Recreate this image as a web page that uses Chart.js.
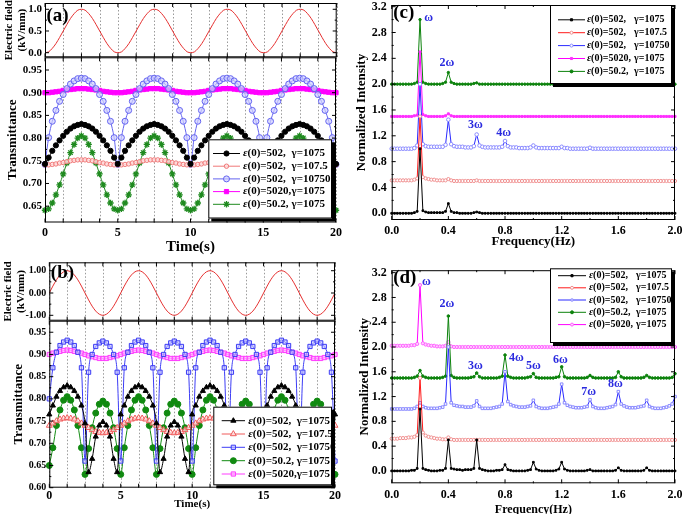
<!DOCTYPE html>
<html>
<head>
<meta charset="utf-8">
<script src="https://cdn.jsdelivr.net/npm/chart.js@4.4.0/dist/chart.umd.min.js"></script>
<style>
  html, body { margin: 0; padding: 0; background: #fff; }
  #fig { position: relative; width: 685px; height: 514px; overflow: hidden; background: #fff; }
</style>
</head>
<body>
<div id="fig"></div>
<script>
// ---------- data ----------
// time grid (s) for panels (a) and (b)
const time = Array.from({length: 81}, (_, i) => i * 0.25);
const timeTicks = [0, 1.25, 2.5, 3.75, 5, 6.25, 7.5, 8.75, 10, 11.25, 12.5, 13.75, 15, 16.25, 17.5, 18.75, 20];

// (a) electric field (kV/mm)
const fieldA = [
  0,0.02,0.1,0.21,0.35,0.5,0.65,0.79,0.9,0.98,1,0.98,0.9,0.79,0.65,0.5,0.35,0.21,0.1,0.02,
  0,0.02,0.1,0.21,0.35,0.5,0.65,0.79,0.9,0.98,1,0.98,0.9,0.79,0.65,0.5,0.35,0.21,0.1,0.02,
  0,0.02,0.1,0.21,0.35,0.5,0.65,0.79,0.9,0.98,1,0.98,0.9,0.79,0.65,0.5,0.35,0.21,0.1,0.02,
  0,0.02,0.1,0.21,0.35,0.5,0.65,0.79,0.9,0.98,1,0.98,0.9,0.79,0.65,0.5,0.35,0.21,0.1,0.02,
  0];
// (a) transmittance
const blackA = [
  0.743,0.757,0.772,0.784,0.795,0.805,0.814,0.821,0.826,0.829,0.831,0.829,0.826,0.821,0.814,0.805,0.795,0.784,0.772,0.757,
  0.743,0.757,0.772,0.784,0.795,0.805,0.814,0.821,0.826,0.829,0.831,0.829,0.826,0.821,0.814,0.805,0.795,0.784,0.772,0.757,
  0.743,0.757,0.772,0.784,0.795,0.805,0.814,0.821,0.826,0.829,0.831,0.829,0.826,0.821,0.814,0.805,0.795,0.784,0.772,0.757,
  0.743,0.757,0.772,0.784,0.795,0.805,0.814,0.821,0.826,0.829,0.831,0.829,0.826,0.821,0.814,0.805,0.795,0.784,0.772,0.757,
  0.743];
const redA = [
  0.741,0.741,0.742,0.743,0.745,0.746,0.748,0.75,0.751,0.752,0.752,0.752,0.751,0.75,0.748,0.746,0.745,0.743,0.742,0.741,
  0.741,0.741,0.742,0.743,0.745,0.746,0.748,0.75,0.751,0.752,0.752,0.752,0.751,0.75,0.748,0.746,0.745,0.743,0.742,0.741,
  0.741,0.741,0.742,0.743,0.745,0.746,0.748,0.75,0.751,0.752,0.752,0.752,0.751,0.75,0.748,0.746,0.745,0.743,0.742,0.741,
  0.741,0.741,0.742,0.743,0.745,0.746,0.748,0.75,0.751,0.752,0.752,0.752,0.751,0.75,0.748,0.746,0.745,0.743,0.742,0.741,
  0.741];
const blueA = [
  0.742,0.801,0.837,0.861,0.881,0.896,0.909,0.919,0.926,0.931,0.932,0.931,0.926,0.919,0.909,0.896,0.881,0.861,0.837,0.801,
  0.742,0.801,0.837,0.861,0.881,0.896,0.909,0.919,0.926,0.931,0.932,0.931,0.926,0.919,0.909,0.896,0.881,0.861,0.837,0.801,
  0.742,0.801,0.837,0.861,0.881,0.896,0.909,0.919,0.926,0.931,0.932,0.931,0.926,0.919,0.909,0.896,0.881,0.861,0.837,0.801,
  0.742,0.801,0.837,0.861,0.881,0.896,0.909,0.919,0.926,0.931,0.932,0.931,0.926,0.919,0.909,0.896,0.881,0.861,0.837,0.801,
  0.742];
const magentaA = [
  0.9,0.9,0.901,0.902,0.903,0.905,0.906,0.907,0.908,0.909,0.909,0.909,0.908,0.907,0.906,0.905,0.903,0.902,0.901,0.9,
  0.9,0.9,0.901,0.902,0.903,0.905,0.906,0.907,0.908,0.909,0.909,0.909,0.908,0.907,0.906,0.905,0.903,0.902,0.901,0.9,
  0.9,0.9,0.901,0.902,0.903,0.905,0.906,0.907,0.908,0.909,0.909,0.909,0.908,0.907,0.906,0.905,0.903,0.902,0.901,0.9,
  0.9,0.9,0.901,0.902,0.903,0.905,0.906,0.907,0.908,0.909,0.909,0.909,0.908,0.907,0.906,0.905,0.903,0.902,0.901,0.9,
  0.9];
const greenA = [
  0.641,0.644,0.657,0.675,0.697,0.721,0.745,0.768,0.786,0.8,0.805,0.8,0.786,0.768,0.745,0.721,0.697,0.675,0.657,0.644,
  0.641,0.644,0.657,0.675,0.697,0.721,0.745,0.768,0.786,0.8,0.805,0.8,0.786,0.768,0.745,0.721,0.697,0.675,0.657,0.644,
  0.641,0.644,0.657,0.675,0.697,0.721,0.745,0.768,0.786,0.8,0.805,0.8,0.786,0.768,0.745,0.721,0.697,0.675,0.657,0.644,
  0.641,0.644,0.657,0.675,0.697,0.721,0.745,0.768,0.786,0.8,0.805,0.8,0.786,0.768,0.745,0.721,0.697,0.675,0.657,0.644,
  0.641];

// (b) electric field (kV/mm)
const fieldB = [
  0,0.31,0.59,0.81,0.95,1,0.95,0.81,0.59,0.31,0,-0.31,-0.59,-0.81,-0.95,-1,-0.95,-0.81,-0.59,-0.31,
  0,0.31,0.59,0.81,0.95,1,0.95,0.81,0.59,0.31,0,-0.31,-0.59,-0.81,-0.95,-1,-0.95,-0.81,-0.59,-0.31,
  0,0.31,0.59,0.81,0.95,1,0.95,0.81,0.59,0.31,0,-0.31,-0.59,-0.81,-0.95,-1,-0.95,-0.81,-0.59,-0.31,
  0,0.31,0.59,0.81,0.95,1,0.95,0.81,0.59,0.31,0,-0.31,-0.59,-0.81,-0.95,-1,-0.95,-0.81,-0.59,-0.31,
  0];
// (b) transmittance
const blackB = [
  0.765,0.785,0.805,0.818,0.826,0.83,0.826,0.818,0.805,0.785,0.745,0.635,0.665,0.715,0.74,0.748,0.74,0.715,0.665,0.635,
  0.765,0.785,0.805,0.818,0.826,0.83,0.826,0.818,0.805,0.785,0.745,0.635,0.665,0.715,0.74,0.748,0.74,0.715,0.665,0.635,
  0.765,0.785,0.805,0.818,0.826,0.83,0.826,0.818,0.805,0.785,0.745,0.635,0.665,0.715,0.74,0.748,0.74,0.715,0.665,0.635,
  0.765,0.785,0.805,0.818,0.826,0.83,0.826,0.818,0.805,0.785,0.745,0.635,0.665,0.715,0.74,0.748,0.74,0.715,0.665,0.635,
  0.765];
const redB = [
  0.74,0.745,0.75,0.754,0.756,0.757,0.756,0.754,0.75,0.745,0.74,0.735,0.73,0.726,0.724,0.723,0.724,0.726,0.73,0.735,
  0.74,0.745,0.75,0.754,0.756,0.757,0.756,0.754,0.75,0.745,0.74,0.735,0.73,0.726,0.724,0.723,0.724,0.726,0.73,0.735,
  0.74,0.745,0.75,0.754,0.756,0.757,0.756,0.754,0.75,0.745,0.74,0.735,0.73,0.726,0.724,0.723,0.724,0.726,0.73,0.735,
  0.74,0.745,0.75,0.754,0.756,0.757,0.756,0.754,0.75,0.745,0.74,0.735,0.73,0.726,0.724,0.723,0.724,0.726,0.73,0.735,
  0.74];
const blueB = [
  0.8,0.87,0.905,0.92,0.928,0.932,0.928,0.92,0.905,0.87,0.66,0.86,0.9,0.918,0.926,0.93,0.926,0.918,0.9,0.86,
  0.66,0.87,0.905,0.92,0.928,0.932,0.928,0.92,0.905,0.87,0.66,0.86,0.9,0.918,0.926,0.93,0.926,0.918,0.9,0.86,
  0.66,0.87,0.905,0.92,0.928,0.932,0.928,0.92,0.905,0.87,0.66,0.86,0.9,0.918,0.926,0.93,0.926,0.918,0.9,0.86,
  0.66,0.87,0.905,0.92,0.928,0.932,0.928,0.92,0.905,0.87,0.66,0.86,0.9,0.918,0.926,0.93,0.926,0.918,0.9,0.86,
  0.66];
const greenB = [
  0.65,0.69,0.74,0.775,0.797,0.805,0.797,0.775,0.74,0.69,0.63,0.688,0.735,0.768,0.788,0.795,0.788,0.768,0.735,0.688,
  0.63,0.69,0.74,0.775,0.797,0.805,0.797,0.775,0.74,0.69,0.63,0.688,0.735,0.768,0.788,0.795,0.788,0.768,0.735,0.688,
  0.63,0.69,0.74,0.775,0.797,0.805,0.797,0.775,0.74,0.69,0.63,0.688,0.735,0.768,0.788,0.795,0.788,0.768,0.735,0.688,
  0.63,0.69,0.74,0.775,0.797,0.805,0.797,0.775,0.74,0.69,0.63,0.688,0.735,0.768,0.788,0.795,0.788,0.768,0.735,0.688,
  0.63];
const magentaB = [
  0.9,0.903,0.905,0.907,0.909,0.91,0.909,0.907,0.905,0.903,0.9,0.897,0.895,0.893,0.891,0.891,0.891,0.893,0.895,0.897,
  0.9,0.903,0.905,0.907,0.909,0.91,0.909,0.907,0.905,0.903,0.9,0.897,0.895,0.893,0.891,0.891,0.891,0.893,0.895,0.897,
  0.9,0.903,0.905,0.907,0.909,0.91,0.909,0.907,0.905,0.903,0.9,0.897,0.895,0.893,0.891,0.891,0.891,0.893,0.895,0.897,
  0.9,0.903,0.905,0.907,0.909,0.91,0.909,0.907,0.905,0.903,0.9,0.897,0.895,0.893,0.891,0.891,0.891,0.893,0.895,0.897,
  0.9];

// frequency grid (Hz) for panels (c) and (d)
const freq = Array.from({length: 101}, (_, i) => +(i * 0.02).toFixed(2));
const freqTicks = [0, 0.4, 0.8, 1.2, 1.6, 2.0];
const intensityTicks = [0, 0.4, 0.8, 1.2, 1.6, 2.0, 2.4, 2.8, 3.2];

// (c) normalized spectra (value above each curve's vertical offset)
const offsetsC = [0, 0.5, 1.0, 1.5, 2.0];
const specC_black = [
  0,0,0,0,0,0,0,0,0.01,0.03,
  1,0.04,0.02,0.01,0.01,0.01,0.01,0.01,0.01,0.03,
  0.15,0.03,0.01,0.01,0,0,0,0,0,0.01,
  0.02,0.01,0,0,0,0,0,0,0,0,
  0,0,0,0,0,0,0,0,0,0,
  0,0,0,0,0,0,0,0,0,0,
  0,0,0,0,0,0,0,0,0,0,
  0,0,0,0,0,0,0,0,0,0,
  0,0,0,0,0,0,0,0,0,0,
  0,0,0,0,0,0,0,0,0,0,
  0];
const specC_red = [
  0.01,0.01,0.01,0.01,0.01,0.01,0.01,0.01,0.02,0.04,
  1,0.06,0.04,0.03,0.02,0.02,0.01,0.01,0.01,0.01,
  0.03,0.01,0,0,0,0,0,0,0,0,
  0.01,0,0,0,0,0,0,0,0,0,
  0,0,0,0,0,0,0,0,0,0,
  0,0,0,0,0,0,0,0,0,0,
  0,0,0,0,0,0,0,0,0,0,
  0,0,0,0,0,0,0,0,0,0,
  0,0,0,0,0,0,0,0,0,0,
  0,0,0,0,0,0,0,0,0,0,
  0];
const specC_blue = [
  0,0,0,0,0,0,0,0,0.01,0.05,
  1,0.07,0.04,0.03,0.03,0.03,0.03,0.03,0.03,0.06,
  0.45,0.07,0.04,0.03,0.03,0.03,0.02,0.02,0.02,0.04,
  0.22,0.05,0.03,0.02,0.02,0.02,0.02,0.02,0.02,0.03,
  0.12,0.04,0.02,0.02,0.02,0.01,0.01,0.01,0.01,0.02,
  0.05,0.02,0.01,0.01,0.01,0.01,0.01,0.01,0.01,0.01,
  0.03,0.01,0.01,0,0,0,0,0,0,0,
  0.015,0,0,0,0,0,0,0,0,0,
  0,0,0,0,0,0,0,0,0,0,
  0,0,0,0,0,0,0,0,0,0,
  0];
const specC_magenta = [
  0,0,0,0,0,0,0,0,0.01,0.02,
  1,0.03,0.01,0,0,0,0,0,0,0.01,
  0.04,0.01,0,0,0,0,0,0,0,0,
  0,0,0,0,0,0,0,0,0,0,
  0,0,0,0,0,0,0,0,0,0,
  0,0,0,0,0,0,0,0,0,0,
  0,0,0,0,0,0,0,0,0,0,
  0,0,0,0,0,0,0,0,0,0,
  0,0,0,0,0,0,0,0,0,0,
  0,0,0,0,0,0,0,0,0,0,
  0];
const specC_green = [
  0,0,0,0,0,0,0,0,0.01,0.03,
  1,0.03,0.01,0,0,0,0,0,0.01,0.03,
  0.18,0.03,0.01,0,0,0,0,0,0,0.01,
  0.02,0,0,0,0,0,0,0,0,0,
  0,0,0,0,0,0,0,0,0,0,
  0,0,0,0,0,0,0,0,0,0,
  0,0,0,0,0,0,0,0,0,0,
  0,0,0,0,0,0,0,0,0,0,
  0,0,0,0,0,0,0,0,0,0,
  0,0,0,0,0,0,0,0,0,0,
  0];

// (d) normalized spectra
const offsetsD = [0, 0.5, 1.0, 1.5, 2.0];
const specD_black = [
  0,0,0,0,0,0,0,0.01,0.01,0.04,
  1,0.04,0.02,0.01,0,0,0,0.01,0.01,0.04,
  0.5,0.04,0.03,0.02,0.02,0.01,0.02,0.02,0.02,0.04,
  0.5,0.04,0.02,0.01,0,0,0,0.01,0.01,0.02,
  0.1,0.02,0.01,0,0,0,0,0,0.01,0.02,
  0.14,0.03,0.01,0,0,0,0,0,0.01,0.03,
  0.14,0.03,0.01,0,0,0,0,0,0,0.01,
  0.02,0,0,0,0,0,0,0,0,0.01,
  0.05,0.01,0,0,0,0,0,0,0,0.01,
  0.05,0.01,0,0,0,0,0,0,0,0,
  0];
const specD_red = [
  0.02,0.02,0.02,0.03,0.03,0.03,0.04,0.04,0.05,0.08,
  1,0.12,0.07,0.05,0.04,0.03,0.02,0.02,0.01,0.01,
  0.04,0.01,0,0,0,0,0,0,0,0,
  0,0,0,0,0,0,0,0,0,0,
  0,0,0,0,0,0,0,0,0,0,
  0,0,0,0,0,0,0,0,0,0,
  0,0,0,0,0,0,0,0,0,0,
  0,0,0,0,0,0,0,0,0,0,
  0,0,0,0,0,0,0,0,0,0,
  0,0,0,0,0,0,0,0,0,0,
  0];
const specD_blue = [
  0,0,0,0,0,0,0,0,0.01,0.04,
  0.1,0.04,0.02,0.01,0.01,0.01,0.01,0.02,0.03,0.08,
  1,0.1,0.06,0.05,0.04,0.04,0.03,0.03,0.03,0.05,
  0.13,0.04,0.01,0.01,0.01,0.01,0.02,0.03,0.04,0.08,
  0.6,0.12,0.07,0.05,0.04,0.03,0.03,0.03,0.04,0.05,
  0.14,0.04,0.02,0.01,0.01,0.01,0.02,0.03,0.04,0.08,
  0.4,0.1,0.06,0.04,0.03,0.02,0.02,0.02,0.03,0.04,
  0.15,0.04,0.02,0.01,0.01,0.01,0.02,0.03,0.04,0.07,
  0.28,0.08,0.05,0.03,0.02,0.02,0.02,0.03,0.04,0.05,
  0.14,0.04,0.02,0.01,0.01,0.01,0.02,0.03,0.05,0.08,
  0.2];
const specD_green = [
  0,0,0,0,0,0,0,0,0.01,0.03,
  0.12,0.03,0.01,0,0,0,0,0,0.01,0.03,
  1,0.04,0.01,0,0,0,0,0,0.01,0.02,
  0.08,0.02,0,0,0,0,0,0,0.01,0.03,
  0.37,0.03,0.01,0,0,0,0,0,0.01,0.02,
  0.07,0.01,0,0,0,0,0,0,0.01,0.02,
  0.18,0.02,0,0,0,0,0,0,0,0.01,
  0.04,0.01,0,0,0,0,0,0,0,0.01,
  0.1,0.02,0,0,0,0,0,0,0,0.01,
  0.04,0.01,0,0,0,0,0,0,0,0.01,
  0.07];
const specD_magenta = [
  0.02,0.02,0.02,0.02,0.02,0.02,0.02,0.03,0.03,0.05,
  1,0.06,0.04,0.03,0.02,0.02,0.01,0.01,0.01,0.02,
  0.08,0.01,0,0,0,0,0,0,0,0,
  0,0,0,0,0,0,0,0,0,0,
  0,0,0,0,0,0,0,0,0,0,
  0,0,0,0,0,0,0,0,0,0,
  0,0,0,0,0,0,0,0,0,0,
  0,0,0,0,0,0,0,0,0,0,
  0,0,0,0,0,0,0,0,0,0,
  0,0,0,0,0,0,0,0,0,0,
  0];

// harmonic labels on the spectra
const harmC = ['ω', '2ω', '3ω', '4ω'];
const harmC_f = [0.26, 0.39, 0.59, 0.79];
const harmC_v = [3.02, 2.33, 1.37, 1.24];
const harmD = ['ω', '2ω', '3ω', '4ω', '5ω', '6ω', '7ω', '8ω'];
const harmD_f = [0.245, 0.39, 0.59, 0.88, 1.0, 1.19, 1.39, 1.58];
const harmD_v = [3.05, 2.70, 1.70, 1.82, 1.69, 1.79, 1.27, 1.40];

// ---------- drawing ----------
const SERIF = '"Liberation Serif", "Times New Roman", serif';
Chart.defaults.font.family = SERIF;
Chart.defaults.font.weight = 'bold';
Chart.defaults.color = '#000';

const pts = (xs, ys, off) => xs.map((x, i) => ({x: x, y: ys[i] + (off || 0)}));

const figPlugin = {
  id: 'fig',
  beforeDatasetsDraw(chart, args, o) {
    if (!o.grid) return;
    const {ctx, chartArea: a, scales: {x}} = chart;
    ctx.save();
    ctx.strokeStyle = '#9a9a9a';
    ctx.lineWidth = 1;
    ctx.setLineDash([1.5, 2]);
    ctx.beginPath();
    x.ticks.forEach(t => {
      const p = Math.round(x.getPixelForValue(t.value)) + 0.5;
      ctx.moveTo(p, a.top); ctx.lineTo(p, a.bottom);
    });
    ctx.stroke();
    ctx.restore();
  },
  afterDatasetsDraw(chart, args, o) {
    const {ctx, chartArea: a, scales: {x, y}} = chart;
    ctx.save();
    ctx.strokeStyle = '#000';
    ctx.lineWidth = 1;
    ctx.strokeRect(a.left + 0.5, a.top + 0.5, a.right - a.left - 1, a.bottom - a.top - 1);
    // inward ticks
    ctx.beginPath();
    const xt = x.ticks.map(t => x.getPixelForValue(t.value));
    const yt = y.ticks.map(t => y.getPixelForValue(t.value));
    xt.forEach((p, i) => {
      ctx.moveTo(p, a.bottom); ctx.lineTo(p, a.bottom - 4);
      ctx.moveTo(p, a.top); ctx.lineTo(p, a.top + 4);
      if (o.minorX && i > 0) {
        const m = (p + xt[i - 1]) / 2;
        ctx.moveTo(m, a.bottom); ctx.lineTo(m, a.bottom - 2);
        ctx.moveTo(m, a.top); ctx.lineTo(m, a.top + 2);
      }
    });
    yt.forEach((p, i) => {
      ctx.moveTo(a.left, p); ctx.lineTo(a.left + 4, p);
      ctx.moveTo(a.right, p); ctx.lineTo(a.right - 4, p);
      if (i > 0) {
        const m = (p + yt[i - 1]) / 2;
        ctx.moveTo(a.left, m); ctx.lineTo(a.left + 2, m);
        ctx.moveTo(a.right, m); ctx.lineTo(a.right - 2, m);
      }
    });
    ctx.stroke();
    // panel tag
    if (o.tag) {
      ctx.fillStyle = '#000';
      ctx.font = 'bold 19px ' + SERIF;
      ctx.textAlign = 'left';
      ctx.textBaseline = 'middle';
      ctx.fillText(o.tag, a.left + 1.5, a.top + o.tagDy);
    }
    // harmonic labels
    if (o.notes) {
      ctx.fillStyle = '#2b2bdf';
      ctx.font = 'bold 12px ' + SERIF;
      ctx.textAlign = 'center';
      ctx.textBaseline = 'middle';
      o.notes.text.forEach((t, i) => {
        ctx.fillText(t, x.getPixelForValue(o.notes.x[i]), y.getPixelForValue(o.notes.y[i]));
      });
    }
    // legend box
    if (o.legend) {
      const L = o.legend, ox = o.origin[0], oy = o.origin[1];
      const bx = L.x0 - ox, by = L.y0 - oy, bw = L.x1 - L.x0, bh = L.y1 - L.y0;
      ctx.fillStyle = '#000';
      ctx.fillRect(bx + 3, by + 3, bw, bh);
      ctx.fillStyle = '#fff';
      ctx.fillRect(bx, by, bw, bh);
      ctx.strokeStyle = '#000';
      ctx.strokeRect(bx + 0.5, by + 0.5, bw - 1, bh - 1);
      chart.data.datasets.forEach((ds, i) => {
        const ry = L.rows[i] - oy;
        ctx.strokeStyle = ds.borderColor;
        ctx.lineWidth = L.lw || ds.borderWidth;
        ctx.beginPath();
        ctx.moveTo(L.l0 - ox, ry); ctx.lineTo(L.l1 - ox, ry);
        ctx.stroke();
        ctx.fillStyle = ds.pointBackgroundColor;
        ctx.strokeStyle = ds.pointBorderColor;
        ctx.lineWidth = ds.pointBorderWidth || 1;
        Chart.helpers.drawPoint(ctx, {pointStyle: ds.pointStyle, radius: L.pr || ds.pointRadius, rotation: 0, borderWidth: ds.pointBorderWidth || 1}, (L.l0 + L.l1) / 2 - ox, ry);
        ctx.fillStyle = '#000';
        ctx.textAlign = 'left';
        ctx.textBaseline = 'middle';
        ctx.font = 'italic bold ' + L.size + 'px ' + SERIF;
        ctx.fillText('ε', L.tx - ox, ry);
        const w = ctx.measureText('ε').width;
        ctx.font = 'bold ' + L.size + 'px ' + SERIF;
        if (L.gx) {
          ctx.fillText('(0)=' + ds.eps + ',', L.tx - ox + w, ry);
          ctx.fillText('γ=' + ds.gamma, L.gx - ox, ry);
        } else {
          ctx.fillText('(0)=' + ds.eps + ',' + ds.sep + 'γ=' + ds.gamma, L.tx - ox + w, ry);
        }
      });
    }
    ctx.restore();
  }
};

function panel(cv, plot, cfg) {
  const c = document.createElement('canvas');
  c.width = cv.w; c.height = cv.h;
  c.style.cssText = 'position:absolute;left:' + cv.x + 'px;top:' + cv.y + 'px;width:' + cv.w + 'px;height:' + cv.h + 'px';
  document.getElementById('fig').appendChild(c);
  const xTitle = cfg.xTitle ? {display: true, text: cfg.xTitle, font: {size: cfg.xTitleSize, weight: 'bold'},
    padding: {top: 0, bottom: cv.y + cv.h - cfg.xTitleY - cfg.xTitleSize * 0.6}} : {display: false};
  const yTitle = {display: true, text: cfg.yTitle, font: {size: cfg.yTitleSize, weight: 'bold'}, color: '#000',
    padding: {top: cfg.yTitleX - cv.x - cfg.yTitleSize * 0.6, bottom: 0}};
  return new Chart(c, {
    type: 'line',
    data: {datasets: cfg.datasets},
    options: {
      responsive: false,
      animation: false,
      events: [],
      layout: {padding: {left: 0, top: plot.t - cv.y, right: cv.x + cv.w - plot.r, bottom: 0}},
      plugins: {
        legend: {display: false},
        tooltip: {enabled: false},
        fig: Object.assign({origin: [cv.x, cv.y]}, cfg.fig)
      },
      scales: {
        x: {
          type: 'linear', min: cfg.xMin, max: cfg.xMax,
          afterFit: s => { s.height = cv.y + cv.h - plot.b; },
          afterBuildTicks: s => { s.ticks = cfg.xTicks.map(v => ({value: v})); },
          ticks: {display: cfg.xLabels !== false, autoSkip: false, maxRotation: 0, padding: cfg.xPad || 3,
                  font: {size: 12, weight: 'bold'}, color: '#000', callback: cfg.xFmt},
          grid: {display: false, drawTicks: false},
          border: {display: false},
          title: xTitle
        },
        y: {
          type: 'linear', min: cfg.yMin, max: cfg.yMax,
          afterFit: s => { s.width = plot.l - cv.x; },
          afterBuildTicks: s => { s.ticks = cfg.yTicks.map(v => ({value: v})); },
          ticks: {autoSkip: false, padding: cfg.yPad || 3, font: {size: cfg.yTickSize || 11, weight: 'bold'}, color: '#000', callback: cfg.yFmt},
          grid: {display: false, drawTicks: false},
          border: {display: false},
          title: yTitle
        }
      }
    },
    plugins: [figPlugin]
  });
}

const timeFmt = v => (v % 5 === 0 ? String(v) : '');
const fieldLine = (data) => ({data: data, borderColor: '#e53030', borderWidth: 1, pointRadius: 0, cubicInterpolationMode: 'monotone'});
const series = (data, color, style, r, bg, eps, gamma, extra) => Object.assign({
  data: data, eps: eps, gamma: gamma, sep: ' ', borderColor: color, borderWidth: 1,
  pointStyle: style, pointRadius: r, pointBackgroundColor: bg, pointBorderColor: color, pointBorderWidth: 1,
  cubicInterpolationMode: 'monotone', clip: 4
}, extra || {});

// ---- panel (a) ----
panel({x: 0, y: -14, w: 345, h: 82}, {l: 45, t: 3, r: 336.7, b: 57.3}, {
  datasets: [fieldLine(pts(time, fieldA))],
  xMin: 0, xMax: 20, xTicks: timeTicks, xLabels: false,
  yMin: -0.106, yMax: 1.145, yTicks: [0, 0.5, 1], yFmt: v => v.toFixed(1), yTickSize: 11, yPad: 3,
  yTitle: ['Electric field', '(kV/mm)'], yTitleSize: 11, yTitleX: 9,
  fig: {grid: true, tag: '(a)', tagDy: 13}
});
panel({x: 0, y: 38, w: 345, h: 222}, {l: 45, t: 57.3, r: 336.7, b: 222.5}, {
  datasets: [
    series(pts(time, blackA), '#000', 'circle', 2.6, '#000', '502', '1075'),
    series(pts(time, redA), '#f07878', 'circle', 2.2, 'rgba(255,225,225,0.8)', '502', '107.5'),
    series(pts(time, blueA), '#6464f0', 'circle', 3, 'rgba(205,205,255,0.7)', '502', '10750'),
    series(pts(time, magentaA), '#ff00ff', 'rect', 3, '#ff00ff', '5020', '1075'),
    series(pts(time, greenA), '#1f8a1f', 'star', 3.2, '#1f8a1f', '50.2', '1075', {pointBorderWidth: 1.3})
  ],
  xMin: 0, xMax: 20, xTicks: timeTicks, xFmt: timeFmt, xPad: 3,
  xTitle: 'Time(s)', xTitleSize: 15, xTitleY: 247,
  yMin: 0.614, yMax: 0.978, yTicks: [0.65, 0.7, 0.75, 0.8, 0.85, 0.9, 0.95], yFmt: v => v.toFixed(2), yTickSize: 11, yPad: 3,
  yTitle: 'Transmittance', yTitleSize: 13, yTitleX: 12.5,
  fig: {grid: true, legend: {x0: 208.3, y0: 139.3, x1: 332, y1: 218.5, rows: [153.5, 166.2, 178.9, 191.6, 204.3],
        l0: 213, l1: 240, tx: 243, gx: 291.5, size: 11}}
});

// ---- panel (b) ----
panel({x: 0, y: 248, w: 345, h: 84}, {l: 49.3, t: 262.3, r: 335, b: 320.7}, {
  datasets: [fieldLine(pts(time, fieldB))],
  xMin: 0, xMax: 20, xTicks: timeTicks, xLabels: false,
  yMin: -1.242, yMax: 1.377, yTicks: [-1, 0, 1], yFmt: v => v.toFixed(2), yTickSize: 10, yPad: 3,
  yTitle: ['Electric field', '(kV/mm)'], yTitleSize: 11, yTitleX: 8,
  fig: {grid: true, tag: '(b)', tagDy: 11}
});
panel({x: 0, y: 305, w: 345, h: 220}, {l: 49.3, t: 320.7, r: 335, b: 487.7}, {
  datasets: [
    series(pts(time, blackB), '#000', 'triangle', 3, '#000', '502', '1075', {sep: '  '}),
    series(pts(time, redB), '#f05a5a', 'triangle', 3.4, 'rgba(255,235,235,0.7)', '502', '107.5', {sep: '  '}),
    series(pts(time, blueB), '#3c3cf5', 'rect', 3, 'rgba(190,190,255,0.6)', '502', '10750', {sep: '  '}),
    series(pts(time, greenB), '#118a11', 'circle', 3, '#118a11', '50.2', '1075', {sep: ' '}),
    series(pts(time, magentaB), '#ff3cff', 'rect', 3, 'rgba(255,170,255,0.7)', '5020', '1075', {sep: ''})
  ],
  xMin: 0, xMax: 20, xTicks: timeTicks, xFmt: timeFmt, xPad: 1,
  xTitle: 'Time(s)', xTitleSize: 11, xTitleY: 504,
  yMin: 0.6, yMax: 0.976, yTicks: [0.6, 0.65, 0.7, 0.75, 0.8, 0.85, 0.9, 0.95], yFmt: v => v.toFixed(2), yTickSize: 10, yPad: 3,
  yTitle: 'Transmittance', yTitleSize: 13, yTitleX: 18.5,
  fig: {grid: true, legend: {x0: 213.3, y0: 406.7, x1: 332, y1: 485.3, rows: [420.7, 434, 447.3, 460.7, 474],
        l0: 221.7, l1: 245, tx: 248.3, size: 11}}
});

// ---- panel (c) ----
const specSeries = (data, color, mColor, style, r, bg, eps, gamma) => ({
  data: data, eps: eps, gamma: gamma, borderColor: color, borderWidth: 1,
  pointStyle: style, pointRadius: r, pointBackgroundColor: bg, pointBorderColor: mColor, pointBorderWidth: 1,
  tension: 0, clip: 3
});
panel({x: 345, y: -10, w: 345, h: 265}, {l: 391.7, t: 5, r: 675, b: 220}, {
  datasets: [
    specSeries(pts(freq, specC_black, offsetsC[0]), '#000', '#000', 'rect', 1.2, '#000', '502', '1075'),
    specSeries(pts(freq, specC_red, offsetsC[1]), '#ff1a1a', '#f09090', 'circle', 1.6, '#fff', '502', '107.5'),
    specSeries(pts(freq, specC_blue, offsetsC[2]), '#2a2aff', '#8a8aff', 'circle', 1.8, '#fff', '502', '10750'),
    specSeries(pts(freq, specC_magenta, offsetsC[3]), '#ff00ff', '#ff30ff', 'rect', 1.4, '#ff30ff', '5020', '1075'),
    specSeries(pts(freq, specC_green, offsetsC[4]), '#0c820c', '#0c820c', 'circle', 1.2, '#0c820c', '50.2', '1075')
  ],
  xMin: 0, xMax: 2, xTicks: freqTicks, xFmt: v => v.toFixed(1), xPad: 4,
  xTitle: 'Frequency(Hz)', xTitleSize: 13, xTitleY: 241.7,
  yMin: -0.104, yMax: 3.226, yTicks: intensityTicks, yFmt: v => v.toFixed(1), yTickSize: 12, yPad: 5,
  yTitle: 'Normalized Intensity', yTitleSize: 13, yTitleX: 362,
  fig: {minorX: true, tag: '(c)', tagDy: 8,
        notes: {text: harmC, x: harmC_f, y: harmC_v},
        legend: {x0: 550, y0: 5, x1: 672, y1: 84, rows: [19.8, 32.7, 45.6, 58.5, 71.4],
                 l0: 558, l1: 585, tx: 587, gx: 634, size: 10, lw: 1, pr: 1.5}}
});

// ---- panel (d) ----
panel({x: 345, y: 258, w: 345, h: 270}, {l: 391.7, t: 268.3, r: 675, b: 483.3}, {
  datasets: [
    specSeries(pts(freq, specD_black, offsetsD[0]), '#000', '#000', 'rect', 1.2, '#000', '502', '1075'),
    specSeries(pts(freq, specD_red, offsetsD[1]), '#ff1a1a', '#f09090', 'circle', 1.6, '#fff', '502', '107.5'),
    specSeries(pts(freq, specD_blue, offsetsD[2]), '#2a2aff', '#8a8aff', 'rect', 1.8, '#fff', '502', '10750'),
    specSeries(pts(freq, specD_green, offsetsD[3]), '#0c820c', '#0c820c', 'circle', 1.3, '#0c820c', '50.2', '1075'),
    specSeries(pts(freq, specD_magenta, offsetsD[4]), '#ff00ff', '#ff60ff', 'circle', 1.6, '#ffd0ff', '5020', '1075')
  ],
  xMin: 0, xMax: 2, xTicks: freqTicks, xFmt: v => v.toFixed(1), xPad: 4,
  xTitle: 'Frequency(Hz)', xTitleSize: 12, xTitleY: 510,
  yMin: -0.2, yMax: 3.24, yTicks: intensityTicks, yFmt: v => v.toFixed(1), yTickSize: 12, yPad: 5,
  yTitle: 'Normalized Intensity', yTitleSize: 13, yTitleX: 365,
  fig: {minorX: true, tag: '(d)', tagDy: 8,
        notes: {text: harmD, x: harmD_f, y: harmD_v},
        legend: {x0: 550, y0: 268.3, x1: 672, y1: 343, rows: [275.7, 287.8, 300, 312.3, 324.6],
                 l0: 558, l1: 586, tx: 589, gx: 636, size: 10, lw: 1, pr: 1.5}}
});
</script>
</body>
</html>
